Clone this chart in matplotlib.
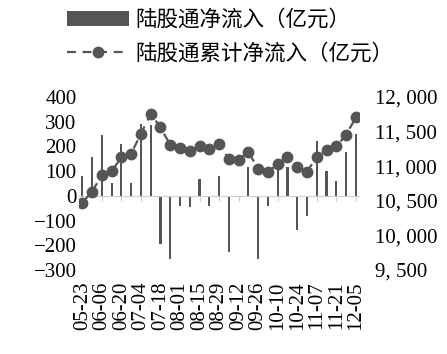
import numpy as np
import matplotlib
matplotlib.use("Agg")
import matplotlib.pyplot as plt
from matplotlib.ticker import FuncFormatter

plt.rcParams['font.family'] = ['Liberation Serif', 'Noto Sans CJK SC']
plt.rcParams['axes.unicode_minus'] = True

# weekly dates
dates = ["05-23", "05-30", "06-06", "06-13", "06-20", "06-27", "07-04", "07-11",
         "07-18", "07-25", "08-01", "08-08", "08-15", "08-22", "08-29", "09-05",
         "09-12", "09-19", "09-26", "10-03", "10-10", "10-17", "10-24", "10-31",
         "11-07", "11-14", "11-21", "11-28", "12-05"]

# weekly net inflow (left axis)
net_inflow = [80, 157, 247, 52, 210, 50, 292, 288, -196, -254, -42, -45, 70, -42,
              80, -228, -6, 115, -255, -40, 105, 115, -140, -80, 220, 100, 60, 176, 252]

# cumulative net inflow (right axis)
cum_inflow = [10475, 10630, 10875, 10928, 11130, 11182, 11470, 11755, 11560, 11308,
              11265, 11222, 11295, 11250, 11325, 11100, 11090, 11210, 10955, 10920,
              11030, 11140, 10995, 10920, 11135, 11230, 11285, 11455, 11705]

label_bar = "陆股通净流入（亿元）"
label_line = "陆股通累计净流入（亿元）"

grey = "#555555"
x = np.arange(len(dates))

fig = plt.figure(figsize=(4.47, 3.54), dpi=100)
ax = fig.add_axes([79.4 / 447, 1 - 270 / 354, 279.4 / 447, 173 / 354])
ax2 = ax.twinx()

bars = ax.bar(x, net_inflow, width=0.22, color=grey, label=label_bar, zorder=2)
line, = ax2.plot(x, cum_inflow, linestyle=(0, (4, 3)), color=grey, linewidth=1.6,
                 marker='o', markersize=7.5, label=label_line)

ax.set_xlim(-0.3, 28.3)
ax.set_ylim(-300, 400)
ax.set_yticks(np.arange(-300, 401, 100))
ax2.set_ylim(9500, 12000)
ax2.set_yticks(np.arange(9500, 12001, 500))
ax2.yaxis.set_major_formatter(FuncFormatter(lambda v, p: "{:,.0f}".format(v).replace(",", ", ")))

for a in (ax, ax2):
    for s in ['top', 'left', 'right']:
        a.spines[s].set_visible(False)
ax2.spines['bottom'].set_visible(False)
ax.spines['bottom'].set_position(('data', 0))
ax.spines['bottom'].set_color('#cccccc')

ax.set_xticks(x[::2])
ax.set_xticklabels(dates[::2], rotation=90, fontsize=15)
ax.tick_params(axis='x', direction='out', length=3.6, color='#cccccc', pad=58)
ax.tick_params(axis='y', length=0, labelsize=15, pad=2)
ax2.tick_params(axis='y', length=0, labelsize=15, pad=12)

fig.legend(handles=[bars, line], loc='upper left', bbox_to_anchor=(0.13, 1.0),
           frameon=False, prop={'family': 'Noto Sans CJK SC', 'size': 15.5},
           handlelength=2.9, handletextpad=0.3, labelspacing=0.55, borderaxespad=0)

plt.savefig("out.png", dpi=100)
